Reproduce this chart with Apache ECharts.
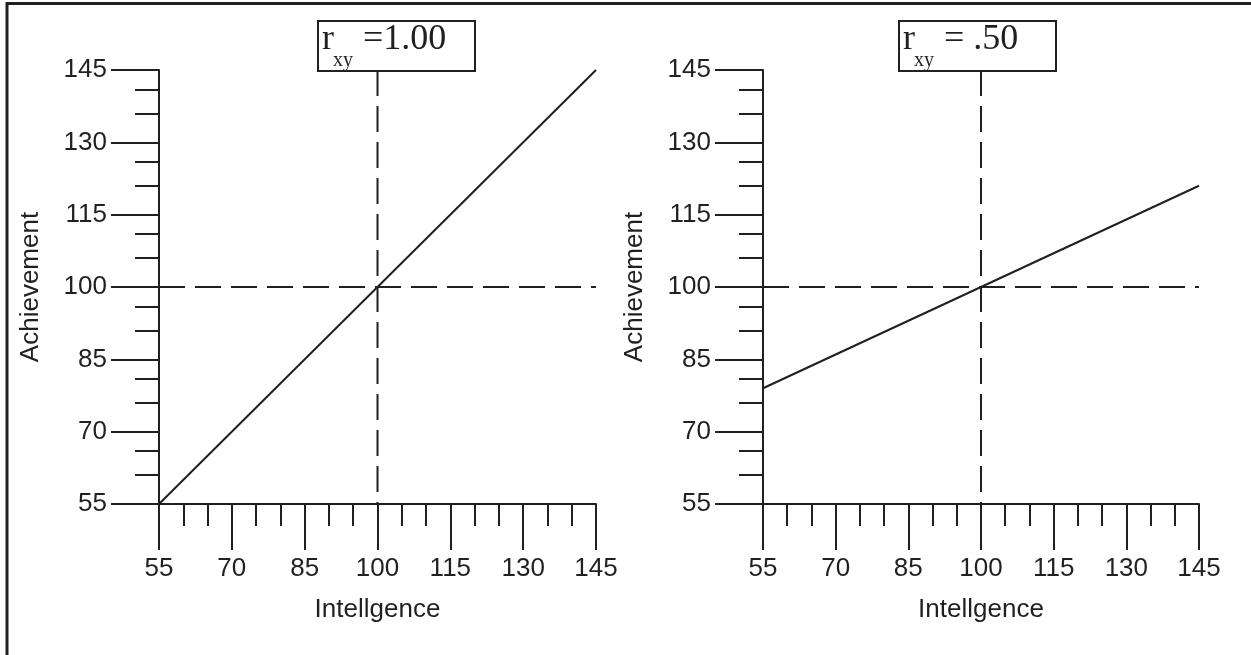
<!DOCTYPE html>
<html>
<head>
<meta charset="utf-8">
<script src="https://cdn.jsdelivr.net/npm/echarts@6/dist/echarts.min.js"></script>
<style>
html,body{margin:0;padding:0;background:#fff;}
#chart{width:1251px;height:655px;}
</style>
</head>
<body>
<div id="chart"></div>
<script>
// ---- data ----
const xMajorTicks = [55, 70, 85, 100, 115, 130, 145];
const xMinorTicks = [60, 65, 75, 80, 90, 95, 105, 110, 120, 125, 135, 140];
const yMajorTicks = [55, 70, 85, 100, 115, 130, 145];
const yMinorTicks = [61, 66, 76, 81, 91, 96, 106, 111, 121, 126, 136, 141];
const xName = 'Intellgence';
const yName = 'Achievement';
const meanX = 100;
const meanY = 100;
const leftLineX = [55, 145];
const leftLineY = [55, 145];
const rightLineX = [55, 145];
const rightLineY = [79, 121];
const leftTitle = { main: 'r', sub: 'xy', rest: '=1.00' };
const rightTitle = { main: 'r', sub: 'xy', rest: '= .50' };

const INK = '#231f20';
const SANS = 'Liberation Sans, Arial, sans-serif';
const SERIF = 'Liberation Serif, Times New Roman, serif';

function xAxes(gridIndex) {
  return [
    {
      type: 'value', gridIndex, position: 'bottom', min: 55, max: 145, interval: 5,
      name: xName, nameLocation: 'middle', nameGap: 93,
      nameTextStyle: { fontFamily: SANS, fontSize: 26, color: INK },
      axisLine: { show: true, onZero: false, lineStyle: { color: INK, width: 2 } },
      axisTick: { show: true, inside: false, length: 46, customValues: xMajorTicks, lineStyle: { color: INK, width: 2 } },
      axisLabel: { show: true, margin: 52, customValues: xMajorTicks, fontFamily: SANS, fontSize: 26, color: INK },
      splitLine: { show: false }
    },
    {
      type: 'value', gridIndex, position: 'bottom', min: 55, max: 145, interval: 5,
      axisLine: { show: false, onZero: false },
      axisTick: { show: true, length: 22, customValues: xMinorTicks, lineStyle: { color: INK, width: 2 } },
      axisLabel: { show: false },
      splitLine: { show: false }
    }
  ];
}
function yAxes(gridIndex) {
  return [
    {
      type: 'value', gridIndex, position: 'left', min: 55, max: 145, interval: 5,
      name: yName, nameLocation: 'middle', nameGap: 115, nameRotate: 90,
      nameTextStyle: { fontFamily: SANS, fontSize: 26, color: INK },
      axisLine: { show: true, onZero: false, lineStyle: { color: INK, width: 2 } },
      axisTick: { show: true, inside: false, length: 48, customValues: yMajorTicks, lineStyle: { color: INK, width: 2 } },
      axisLabel: { show: true, margin: 52, customValues: yMajorTicks, fontFamily: SANS, fontSize: 26, color: INK },
      splitLine: { show: false }
    },
    {
      type: 'value', gridIndex, position: 'left', min: 55, max: 145, interval: 5,
      axisLine: { show: false, onZero: false },
      axisTick: { show: true, length: 24, customValues: yMinorTicks, lineStyle: { color: INK, width: 2 } },
      axisLabel: { show: false },
      splitLine: { show: false }
    }
  ];
}

function zip(a, b) { return a.map((v, i) => [v, b[i]]); }

function seriesFor(gi, lx, ly) {
  const xi = gi * 2, yi = gi * 2;
  const base = { type: 'line', xAxisIndex: xi, yAxisIndex: yi, symbol: 'none', silent: true, animation: false };
  return [
    Object.assign({}, base, { data: [[meanX, 145], [meanX, 55]], lineStyle: { color: INK, width: 2, type: [26, 10] } }),
    Object.assign({}, base, { data: [[55, meanY], [145, meanY]], lineStyle: { color: INK, width: 2, type: [26, 10] } }),
    Object.assign({}, base, { data: zip(lx, ly), lineStyle: { color: INK, width: 2 } })
  ];
}

function titleBox(x, t) {
  return {
    type: 'group', x: x, y: 21,
    children: [
      { type: 'rect', shape: { x: 0, y: 0, width: 157, height: 50 }, style: { fill: '#fff', stroke: INK, lineWidth: 2 } },
      { type: 'text', x: 4, y: 19, style: { text: t.main, font: '36px ' + SERIF, fill: INK, verticalAlign: 'middle' } },
      { type: 'text', x: 15, y: 40, style: { text: t.sub, font: '20px ' + SERIF, fill: INK, verticalAlign: 'middle' } },
      { type: 'text', x: 45, y: 19, style: { text: t.rest, font: '36px ' + SERIF, fill: INK, verticalAlign: 'middle' } }
    ]
  };
}

const chart = echarts.init(document.getElementById('chart'));
chart.setOption({
  animation: false,
  backgroundColor: '#fff',
  grid: [
    { left: 159, top: 70, width: 437, height: 434 },
    { left: 763, top: 70, width: 436, height: 434 }
  ],
  xAxis: [...xAxes(0), ...xAxes(1)],
  yAxis: [...yAxes(0), ...yAxes(1)],
  series: [...seriesFor(0, leftLineX, leftLineY), ...seriesFor(1, rightLineX, rightLineY)],
  graphic: [
    { type: 'polyline', shape: { points: [[7, 655], [7, 3.5], [1251, 3.5]] }, style: { stroke: INK, lineWidth: 3, fill: null } },
    titleBox(318, leftTitle),
    titleBox(899, rightTitle)
  ]
});
</script>
</body>
</html>
